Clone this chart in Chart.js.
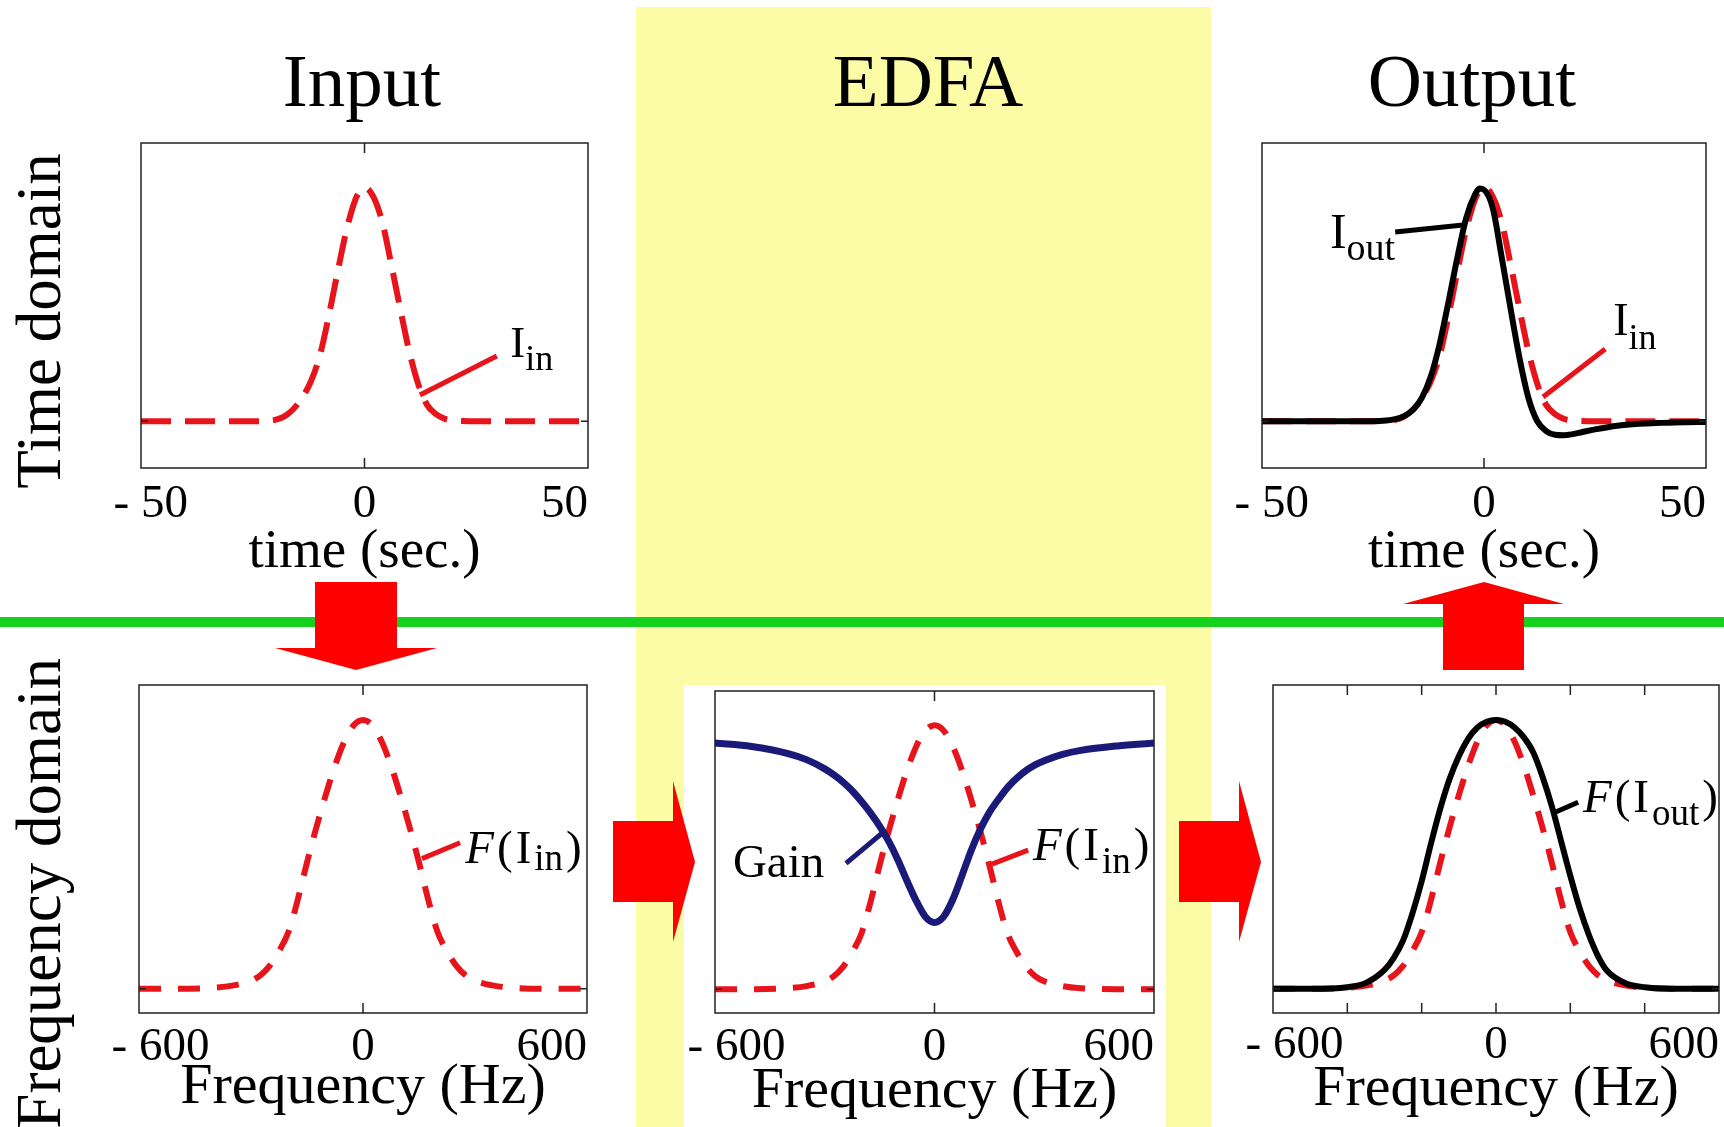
<!DOCTYPE html>
<html>
<head>
<meta charset="utf-8">
<script src="https://cdn.jsdelivr.net/npm/chart.js@4.4.1/dist/chart.umd.min.js"></script>
<style>
  body { margin: 0; background: #fff; }
  #page { position: relative; width: 1724px; height: 1127px; overflow: hidden; background: #fff; }
  #page canvas, #page svg { position: absolute; }
  #fEdfa { background: #fff; }
</style>
</head>
<body>
<div id="page">
  <svg id="bg" width="1724" height="1127" style="left:0;top:0">
    <rect x="636" y="7" width="575" height="1120" fill="#fcfba6"/>
    <rect x="0" y="617" width="1724" height="10" fill="#14d21e"/>
    <g font-family="Liberation Serif" font-size="75" text-anchor="middle" fill="#000">
      <text x="362" y="106">Input</text>
      <text x="928" y="106">EDFA</text>
      <text x="1472" y="106">Output</text>
    </g>
    <g font-family="Liberation Serif" font-size="63" fill="#000">
      <text x="60" y="321" text-anchor="middle" transform="rotate(-90 60 321)">Time domain</text>
      <text x="60" y="658" text-anchor="end" transform="rotate(-90 60 658)">Frequency domain</text>
    </g>
  </svg>

  <canvas id="tIn" width="510" height="460" style="left:95px;top:130px"></canvas>
  <canvas id="tOut" width="509" height="460" style="left:1215px;top:130px"></canvas>
  <canvas id="fIn" width="510" height="452" style="left:95px;top:675px"></canvas>
  <canvas id="fEdfa" width="482" height="442" style="left:684px;top:685px"></canvas>
  <canvas id="fOut" width="509" height="452" style="left:1215px;top:675px"></canvas>

  <svg id="arrows" width="1724" height="1127" style="left:0;top:0;pointer-events:none">
    <g fill="#ff0000">
      <polygon points="315,582 397,582 397,648 437,648 356,670 275,648 315,648"/>
      <polygon points="1484,582 1564,604 1524,604 1524,670 1443,670 1443,604 1403,604"/>
      <polygon points="613,821 673,821 673,781 695,862 673,942 673,902 613,902"/>
      <polygon points="1179,821 1239,821 1239,781 1261,862 1239,942 1239,902 1179,902"/>
    </g>
  </svg>
</div>

<script>
// time domain (sec.)
var timeAxis    = [-50, -40, -30, -25, -22, -20, -18, -16, -14, -12, -10, -8, -6, -4, -2, -1, 0, 2, 4, 6, 8, 10, 12, 14, 16, 18, 20, 22, 25, 30, 35, 40, 45, 50];
var inputPulse  = [0, 0, 0, 0, 0.002, 0.006, 0.02, 0.05, 0.1, 0.17, 0.28, 0.45, 0.64, 0.82, 0.95, 0.985, 1.0, 0.96, 0.85, 0.67, 0.48, 0.3, 0.16, 0.07, 0.03, 0.01, 0.003, 0.001, 0, 0, 0, 0, 0, 0];
var outputPulse = [0, 0, 0, 0, 0.003, 0.009, 0.022, 0.048, 0.1, 0.19, 0.33, 0.51, 0.7, 0.87, 0.97, 0.995, 0.99, 0.91, 0.7, 0.48, 0.27, 0.1, 0.0, -0.042, -0.058, -0.06, -0.055, -0.047, -0.035, -0.019, -0.011, -0.007, -0.004, -0.003];

// frequency domain (Hz)
var freqAxis       = [-600, -500, -400, -350, -300, -275, -250, -225, -200, -175, -150, -125, -100, -75, -50, -25, 0, 25, 50, 75, 100, 125, 150, 175, 200, 225, 250, 275, 300, 350, 400, 500, 600];
var inputSpectrum  = [0, 0, 0.004, 0.012, 0.03, 0.05, 0.085, 0.14, 0.21, 0.33, 0.47, 0.6, 0.72, 0.83, 0.92, 0.98, 1.0, 0.98, 0.92, 0.83, 0.72, 0.6, 0.47, 0.33, 0.21, 0.14, 0.085, 0.05, 0.03, 0.012, 0.004, 0, 0];
var edfaGain       = [0.933, 0.92, 0.893, 0.87, 0.835, 0.812, 0.785, 0.752, 0.712, 0.668, 0.618, 0.56, 0.49, 0.41, 0.335, 0.275, 0.253, 0.275, 0.34, 0.43, 0.525, 0.605, 0.67, 0.72, 0.765, 0.8, 0.828, 0.85, 0.866, 0.89, 0.905, 0.922, 0.933];
var outputSpectrum = [0, 0, 0.006, 0.022, 0.07, 0.115, 0.18, 0.28, 0.4, 0.54, 0.67, 0.78, 0.865, 0.93, 0.972, 0.993, 1.0, 0.993, 0.972, 0.935, 0.88, 0.79, 0.68, 0.55, 0.42, 0.3, 0.2, 0.12, 0.065, 0.02, 0.006, 0, 0];

// tick labels / tick marks
var timeTickLabels = [-50, 0, 50];
var freqTickLabels = [-600, 0, 600];
var plainTicks     = [0];
var outFreqTicks   = [-400, -200, 0, 200, 400];

var RED = '#e8141c';
var BLUE = '#1a1a78';
var SERIF = '"Liberation Serif", "Times New Roman", serif';

function pts(xs, ys) {
    return xs.map(function (x, i) { return {x: x, y: ys[i]}; });
}

function dashed(xs, ys, dash) {
    return {data: pts(xs, ys), borderColor: RED, borderWidth: 6, borderDash: dash,
            borderCapStyle: 'butt', fill: false, cubicInterpolationMode: 'monotone'};
}

function solid(xs, ys, color, w) {
    return {data: pts(xs, ys), borderColor: color, borderWidth: w || 6,
            borderCapStyle: 'round', fill: false, cubicInterpolationMode: 'monotone'};
}

function fmt(v) {
    return v < 0 ? '- ' + Math.abs(v) : String(v);
}

// draws box, ticks, tick labels, axis title and the little callouts
function framePlugin(cfg) {
    return {
        id: 'frame',
        afterDraw: function (chart) {
            var ctx = chart.ctx, a = chart.chartArea;
            var xs = chart.scales.x, ys = chart.scales.y;
            ctx.save();

            ctx.strokeStyle = '#222';
            ctx.lineWidth = 1.5;
            ctx.strokeRect(a.left, a.top, a.right - a.left, a.bottom - a.top);

            ctx.beginPath();
            cfg.ticks.forEach(function (v) {
                var px = xs.getPixelForValue(v);
                ctx.moveTo(px, a.top); ctx.lineTo(px, a.top + 10);
                ctx.moveTo(px, a.bottom); ctx.lineTo(px, a.bottom - 10);
            });
            var py = ys.getPixelForValue(0);
            ctx.moveTo(a.left, py); ctx.lineTo(a.left + 7, py);
            ctx.moveTo(a.right, py); ctx.lineTo(a.right - 7, py);
            ctx.stroke();

            // tick labels: first starts at its tick, last ends at its tick
            ctx.fillStyle = '#000';
            ctx.font = '47px ' + SERIF;
            ctx.textBaseline = 'alphabetic';
            var n = cfg.labels.length;
            cfg.labels.forEach(function (v, i) {
                var px = xs.getPixelForValue(v);
                var y = a.bottom + cfg.labelGap;
                if (i === 0) {
                    var pre = v < 0 ? '- ' : '';
                    ctx.textAlign = 'left';
                    ctx.fillText(fmt(v), px - ctx.measureText(pre).width, y);
                } else if (i === n - 1) {
                    ctx.textAlign = 'right';
                    ctx.fillText(fmt(v), px, y);
                } else {
                    ctx.textAlign = 'center';
                    ctx.fillText(fmt(v), px, y);
                }
            });

            ctx.font = cfg.titleSize + 'px ' + SERIF;
            ctx.textAlign = 'center';
            ctx.fillText(cfg.title, (a.left + a.right) / 2, a.bottom + cfg.titleGap);

            // callout leaders
            (cfg.leaders || []).forEach(function (l) {
                ctx.strokeStyle = l.color;
                ctx.lineWidth = 5;
                ctx.lineCap = 'butt';
                ctx.beginPath();
                ctx.moveTo(xs.getPixelForValue(l.from[0]), ys.getPixelForValue(l.from[1]));
                ctx.lineTo(xs.getPixelForValue(l.to[0]), ys.getPixelForValue(l.to[1]));
                ctx.stroke();
            });

            // callout texts with subscripts
            ctx.textAlign = 'left';
            ctx.fillStyle = '#000';
            (cfg.notes || []).forEach(function (t) {
                var cx = xs.getPixelForValue(t.at[0]);
                var cy = ys.getPixelForValue(t.at[1]);
                t.parts.forEach(function (p) {
                    var fs = p.sub ? t.sub : t.size;
                    ctx.font = (p.italic ? 'italic ' : '') + fs + 'px ' + SERIF;
                    ctx.fillText(p.t, cx, p.sub ? cy + t.drop : cy);
                    cx += ctx.measureText(p.t).width + (t.gap || 0);
                });
            });

            ctx.restore();
        }
    };
}

function makeChart(id, datasets, range, pad, cfg) {
    var ctx = document.getElementById(id).getContext('2d');
    return new Chart(ctx, {
        type: 'line',
        data: {datasets: datasets},
        options: {
            responsive: false,
            animation: false,
            layout: {padding: pad},
            elements: {point: {radius: 0}},
            scales: {
                x: {type: 'linear', display: false, min: range[0], max: range[1]},
                y: {type: 'linear', display: false, min: range[2], max: range[3]}
            },
            plugins: {legend: {display: false}, tooltip: {enabled: false}}
        },
        plugins: [framePlugin(cfg)]
    });
}

var timeRange = [-50, 50, -0.2, 1.19];
var freqRange = [-600, 600, -0.09, 1.13];
var timeDash = [30, 14];
var freqDash = [22, 17];

var I_IN = [{t: 'I'}, {t: 'in', sub: true}];
var F_IN = [{t: 'F', italic: true}, {t: '('}, {t: 'I'}, {t: 'in', sub: true}, {t: ')'}];
var F_OUT = [{t: 'F', italic: true}, {t: '('}, {t: 'I'}, {t: 'out', sub: true}, {t: ')'}];

makeChart('tIn',
    [dashed(timeAxis, inputPulse, timeDash)],
    timeRange, {left: 46, top: 13, right: 17, bottom: 122},
    {ticks: plainTicks, labels: timeTickLabels, labelGap: 49, title: 'time (sec.)', titleSize: 55, titleGap: 99,
     leaders: [{from: [29.6, 0.279], to: [12.4, 0.112], color: RED}],
     notes: [{at: [32.6, 0.275], parts: I_IN, size: 45, sub: 36, drop: 13}]});

makeChart('tOut',
    [solid(timeAxis, outputPulse, '#000'), dashed(timeAxis, inputPulse, timeDash)],
    timeRange, {left: 47, top: 13, right: 18, bottom: 122},
    {ticks: plainTicks, labels: timeTickLabels, labelGap: 49, title: 'time (sec.)', titleSize: 55, titleGap: 99,
     leaders: [{from: [-20, 0.809], to: [-4.7, 0.839], color: '#000'},
               {from: [27.3, 0.309], to: [13.3, 0.104], color: RED}],
     notes: [{at: [-34.7, 0.741], parts: [{t: 'I'}, {t: 'out', sub: true}], size: 50, sub: 38, drop: 12},
             {at: [29.1, 0.369], parts: I_IN, size: 46, sub: 36, drop: 14}]});

makeChart('fIn',
    [dashed(freqAxis, inputSpectrum, freqDash)],
    freqRange, {left: 44, top: 10, right: 18, bottom: 114},
    {ticks: plainTicks, labels: freqTickLabels, labelGap: 47, title: 'Frequency (Hz)', titleSize: 58, titleGap: 90,
     leaders: [{from: [260, 0.543], to: [158, 0.484], color: RED}],
     notes: [{at: [274, 0.469], parts: F_IN, size: 47, sub: 37, drop: 7, gap: 3}]});

makeChart('fEdfa',
    [solid(freqAxis, edfaGain, BLUE, 7), dashed(freqAxis, inputSpectrum, freqDash)],
    freqRange, {left: 31, top: 6, right: 12, bottom: 114},
    {ticks: plainTicks, labels: freqTickLabels, labelGap: 47, title: 'Frequency (Hz)', titleSize: 58, titleGap: 94,
     leaders: [{from: [-242, 0.477], to: [-143.5, 0.591], color: BLUE},
               {from: [256, 0.527], to: [157, 0.474], color: RED}],
     notes: [{at: [-551, 0.424], parts: [{t: 'Gain'}], size: 47, sub: 36, drop: 0},
             {at: [269, 0.489], parts: F_IN, size: 47, sub: 37, drop: 13, gap: 3}]});

makeChart('fOut',
    [solid(freqAxis, outputSpectrum, '#000'), dashed(freqAxis, inputSpectrum, freqDash)],
    freqRange, {left: 58, top: 10, right: 5, bottom: 114},
    {ticks: outFreqTicks, labels: freqTickLabels, labelGap: 45, title: 'Frequency (Hz)', titleSize: 58, titleGap: 92,
     leaders: [{from: [221, 0.694], to: [153, 0.653], color: '#000'}],
     notes: [{at: [234, 0.657], parts: F_OUT, size: 47, sub: 37, drop: 13, gap: 3}]});
</script>
</body>
</html>
